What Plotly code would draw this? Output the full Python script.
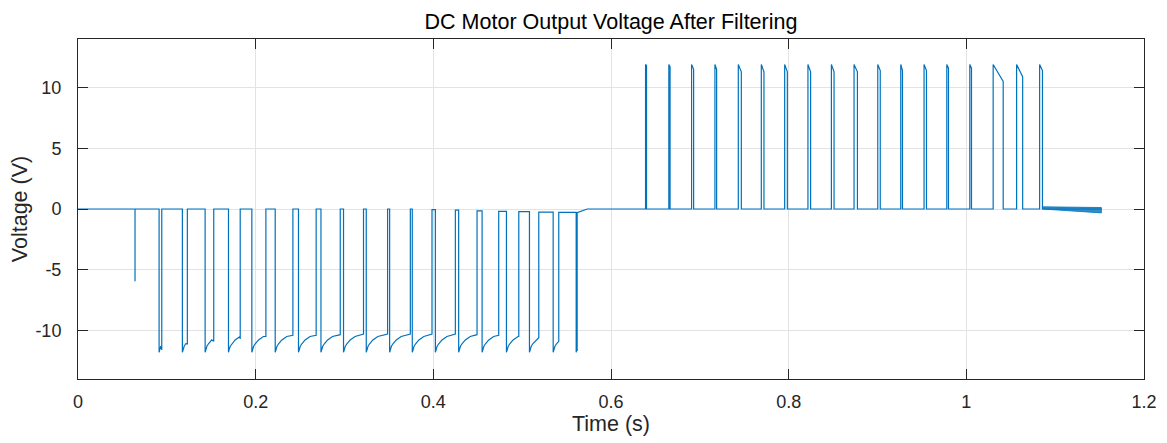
import plotly.graph_objects as go

# ---------------- data ----------------
# initial isolated spike
spike_t = 0.0642
spike_v = -5.95

# negative PWM pulses (fall time, on-duration, end value, level after pulse)
neg_fall = [0.0913, 0.1175, 0.1431, 0.1694, 0.1957, 0.2220, 0.2482, 0.2735,
            0.2989, 0.3245, 0.3508, 0.3763, 0.4023, 0.4285, 0.4549, 0.4823,
            0.5082, 0.5349, 0.5608]
neg_dur = [0.0030, 0.0056, 0.0097, 0.0132, 0.0158, 0.0199, 0.0199, 0.0217,
           0.0225, 0.0240, 0.0233, 0.0222, 0.0225, 0.0207, 0.0187, 0.0139,
           0.0105, 0.0063, 0.0011]
neg_end = [-11.6, -11.1, -10.9, -10.7, -10.5, -10.4, -10.4, -10.35, -10.3,
           -10.3, -10.3, -10.3, -10.3, -10.35, -10.4, -10.5, -10.6, -10.9, -11.7]
neg_off = [0.0, 0.0, 0.0, 0.0, 0.0, 0.0, 0.0, 0.0, 0.0, 0.0, 0.0, -0.05,
           -0.1, -0.15, -0.2, -0.22, -0.25, -0.28, -0.3]
neg_peak = -11.8
# recovery profile of a negative pulse (time offset, voltage)
rec_off = [0.0008, 0.0020, 0.0040, 0.0075, 0.0130, 0.0200]
rec_val = [-11.55, -11.3, -11.08, -10.78, -10.5, -10.35]
settle_t = 0.5732

# positive PWM pulses (rise time, on-duration, end value)
pos_rise = [0.6389, 0.6651, 0.6907, 0.7170, 0.7433, 0.7692, 0.7955, 0.8217,
            0.8481, 0.8736, 0.9003, 0.9262, 0.9524, 0.9780, 1.0039, 1.0302,
            1.0566, 1.0825]
pos_dur = [0.0011, 0.0014, 0.0023, 0.0019, 0.0034, 0.0030, 0.0030, 0.0030,
           0.0030, 0.0038, 0.0028, 0.0019, 0.0027, 0.0019, 0.0019, 0.0113,
           0.0068, 0.0032]
pos_end = [11.8, 11.7, 11.5, 11.5, 11.3, 11.3, 11.3, 11.3, 11.3, 11.3, 11.4,
           11.4, 11.4, 11.6, 11.6, 10.5, 10.9, 11.4]
pos_peak = 11.9

# trailing noisy band after the last pulse
tail_t = [1.0857, 1.152]
tail_hi = [0.18, 0.12]
tail_lo = [0.0, -0.32]

# axes
x_ticks = [0, 0.2, 0.4, 0.6, 0.8, 1.0, 1.2]
x_labels = ["0", "0.2", "0.4", "0.6", "0.8", "1", "1.2"]
y_ticks = [-10, -5, 0, 5, 10]
y_labels = ["-10", "-5", "0", "5", "10"]

# ---------------- build the waveform ----------------
xs, ys = [0.0], [0.0]
xs += [spike_t, spike_t, spike_t]
ys += [0.0, spike_v, 0.0]
level = 0.0
for tf, d, ev, off in zip(neg_fall, neg_dur, neg_end, neg_off):
    xs += [tf, tf]
    ys += [level, neg_peak]
    for o, v in zip(rec_off, rec_val):
        if o < d:
            xs.append(tf + o)
            ys.append(v)
    xs += [tf + d, tf + d]
    ys += [ev, off]
    level = off
xs.append(settle_t)
ys.append(0.0)
for tr, d, ev in zip(pos_rise, pos_dur, pos_end):
    xs += [tr, tr, tr + d, tr + d]
    ys += [0.0, pos_peak, ev, 0.0]
xs.append(tail_t[-1])
ys.append(0.0)

color = "#0072BD"
font_family = "Liberation Sans, Arial, Helvetica"
fig = go.Figure()
fig.add_trace(go.Scatter(
    x=tail_t + tail_t[::-1], y=tail_hi + tail_lo[::-1],
    fill="toself", mode="lines", line=dict(color=color, width=0.8),
    fillcolor="rgba(0,114,189,0.8)", hoverinfo="skip", showlegend=False))
fig.add_trace(go.Scatter(x=xs, y=ys, mode="lines",
                         line=dict(color=color, width=1.2), showlegend=False))

axis_common = dict(
    showline=True, linecolor="#262626", linewidth=1, mirror="ticks",
    ticks="inside", ticklen=10, tickcolor="#262626", tickwidth=1,
    showgrid=True, gridcolor="#e3e3e3", gridwidth=1, zeroline=False,
    tickfont=dict(family=font_family, size=18, color="#262626"),
)
fig.update_xaxes(range=[0, 1.2], tickvals=x_ticks, ticktext=x_labels,
                 ticklabelstandoff=6,
                 title=dict(text="Time (s)", standoff=5,
                            font=dict(family=font_family, size=21.5, color="#262626")),
                 **axis_common)
fig.update_yaxes(range=[-14, 14], tickvals=y_ticks, ticktext=y_labels,
                 ticklabelstandoff=12,
                 title=dict(text="Voltage (V)", standoff=4,
                            font=dict(family=font_family, size=21.5, color="#262626")),
                 **axis_common)
fig.update_layout(
    width=1159, height=435,
    margin=dict(l=70, r=23, t=31, b=64, autoexpand=False),
    paper_bgcolor="white", plot_bgcolor="white",
    title=dict(text="DC Motor Output Voltage After Filtering", x=0.5, xanchor="center",
               xref="paper", y=0.969, yanchor="middle",
               font=dict(family=font_family, size=21.5, color="#000000")),
)
fig.write_html("out.html")
